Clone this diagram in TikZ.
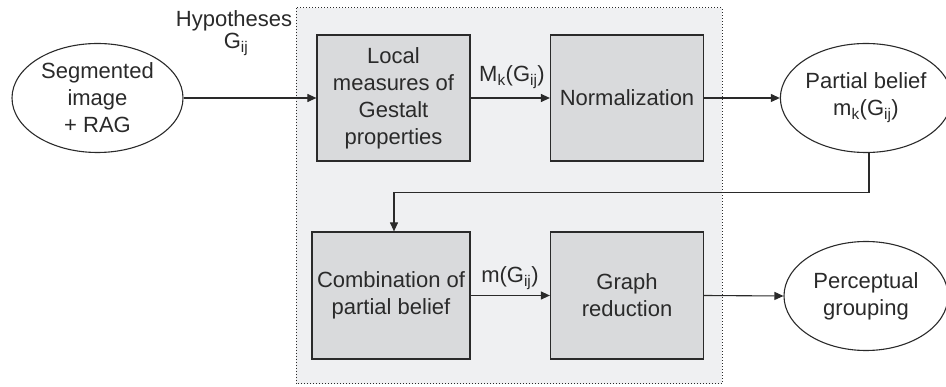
\documentclass[tikz,border=0pt]{standalone}
\usepackage{fontspec}
\setmainfont{Liberation Sans}
\usetikzlibrary{arrows.meta,shapes.geometric}
\definecolor{panel}{HTML}{EFF0F2}
\definecolor{blockfill}{HTML}{D9DADC}
\definecolor{ink}{HTML}{2A2A2A}
\begin{document}
\begin{tikzpicture}[x=1pt,y=-1pt,
  every node/.style={font=\fontsize{22}{27}\selectfont, text=ink, align=center},
  block/.style={draw=ink, line width=1.2pt, fill=blockfill, minimum width=153pt, minimum height=126pt, inner sep=0pt},
  blob/.style={draw=ink, line width=1.1pt, ellipse, minimum width=171pt, minimum height=109pt, inner sep=0pt},
  flow/.style={draw=ink, line width=1.1pt, -{Triangle[length=9pt,width=8pt]}},
  lbl/.style={inner sep=0pt}]
\useasboundingbox (0,0) rectangle (946,387);
% processing panel
\draw[ink, dotted, line width=1pt, fill=panel] (296,8) rectangle (722,384);
% blocks
\node[block] (loc) at (393.5,98) {Local\\measures of\\Gestalt\\properties};
\node[block] (norm) at (627,98) {Normalization};
\node[block, minimum width=158pt, minimum height=127pt] (comb) at (391,295.5) {Combination of\\partial belief};
\node[block, minimum height=127pt] (graph) at (627,295.5) {Graph\\reduction};
% ellipses
\node[blob] (seg) at (97.5,98) {Segmented\\image\\+ RAG};
\node[blob, minimum width=164pt] (part) at (866,98) {Partial belief\\m\textsubscript{k}(G\textsubscript{ij})};
\node[blob, minimum width=164pt] (perc) at (866,296) {Perceptual\\grouping};
% connectors
\draw[flow] (seg.east) -- (loc.west);
\draw[flow] (loc.east) -- (norm.west);
\draw[flow] (norm.east) -- (part.west);
\coordinate (turnR) at (869,192.5);
\coordinate (turnL) at (394,192.5);
\draw[flow] (part.south -| turnR) -- (turnR) -- (turnL) -- (turnL |- comb.north);
\draw[flow] (comb.east) -- (graph.west);
\draw[flow] (graph.east) -- (perc.west);
% labels
\node[lbl] (hyp) at (234,21) {Hypotheses};
\node[lbl] (gij) at (236,44) {G\textsubscript{ij}};
\node[lbl] (mk) at (512,77) {M\textsubscript{k}(G\textsubscript{ij})};
\node[lbl] (mg) at (510,278) {m(G\textsubscript{ij})};
\end{tikzpicture}
\end{document}
